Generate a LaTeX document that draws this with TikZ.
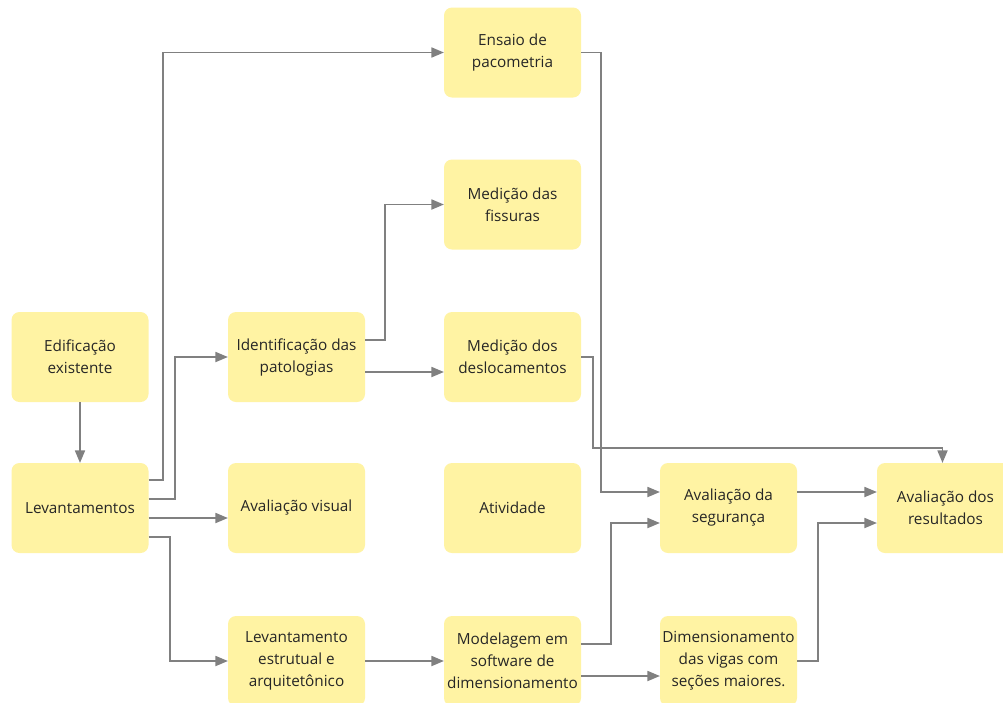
\documentclass[tikz,border=0pt]{standalone}
\usepackage{fontspec}
\setmainfont{Open Sans}
\usetikzlibrary{arrows,positioning}
\definecolor{boxyellow}{RGB}{255,243,163}
\definecolor{linkgray}{RGB}{128,128,128}
\tikzset
{
    activity/.style = {rectangle, rounded corners=8pt, fill=boxyellow, align=center, minimum width=137pt, minimum height=90pt, inner sep=1pt, text=black!85, font=\fontsize{15.3}{22}\selectfont},
    link/.style = {draw=linkgray, line width=1.9pt, -triangle 45}
}

\begin{document}
\begin{tikzpicture}[x=1pt, y=-1pt]
	\useasboundingbox (0,0) rectangle (1003,702);
	\fill[white] (0,0) rectangle (1003,702);
	% first column
	\node[activity] (edif) at (80,357) {Edificação\\existente};
	\node[activity] (lev) at (80,508) {Levantamentos};
	% second column
	\node[activity] (iden) at (296.5,357) {Identificação das\\patologias};
	\node[activity] (vis) at (296.5,508) {Avaliação visual};
	\node[activity] (lest) at (296.5,661) {Levantamento\\estrutual e\\arquitetônico};
	% third column
	\node[activity] (ens) at (512.5,52.5) {Ensaio de\\pacometria};
	\node[activity] (fiss) at (512.5,204.5) {Medição das\\fissuras};
	\node[activity] (desl) at (512.5,357) {Medição dos\\deslocamentos};
	\node[activity] (ativ) at (512.5,508) {Atividade};
	\node[activity] (mod) at (512.5,661) {Modelagem em\\software de\\dimensionamento};
	% fourth and fifth column
	\node[activity] (seg) at (728.5,508) {Avaliação da\\segurança};
	\node[activity] (dim) at (728.5,661) {Dimensionamento\\das vigas com\\seções maiores.};
	\node[activity] (res) at (945.5,508) {Avaliação dos\\resultados};

	\draw[link] (edif) -- (lev);
	\draw[link] ([yshift=28pt]lev.east) -- ++(14,0) |- (ens.west);
	\draw[link] ([yshift=9pt]lev.east) -- ++(26,0) |- (iden.west);
	\draw[link] ([yshift=-10pt]lev.east) -- ([yshift=-10pt]vis.west);
	\draw[link] ([yshift=-29pt]lev.east) -- ++(21,0) |- (lest.west);
	\draw[link] ([yshift=17pt]iden.east) -- ++(20,0) |- (fiss.west);
	\draw[link] ([yshift=-15pt]iden.east) -- ([yshift=-15pt]desl.west);
	\draw[link] (ens.east) -- ++(20,0) |- ([yshift=16pt]seg.west);
	\draw[link] (desl.east) -- ++(12,0) -- ++(0,91) -| ([xshift=-3pt]res.north);
	\draw[link] (lest.east) -- (mod.west);
	\draw[link] ([yshift=17pt]mod.east) -- ++(30,0) |- ([yshift=-15pt]seg.west);
	\draw[link] ([yshift=-15pt]mod.east) -- ([yshift=-15pt]dim.west);
	\draw[link] ([yshift=16pt]seg.east) -- ([yshift=16pt]res.west);
	\draw[link] (dim.east) -- ++(21,0) |- ([yshift=-15pt]res.west);
\end{tikzpicture}
\end{document}
